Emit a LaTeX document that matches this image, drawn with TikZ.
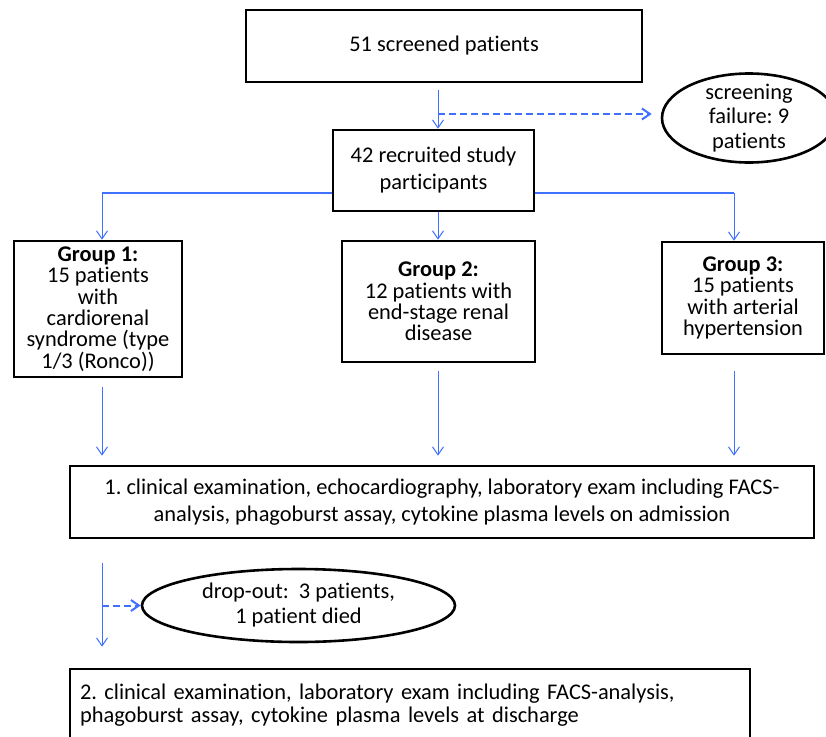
\documentclass[tikz,border=0pt]{standalone}
\usepackage{fontspec}
\setmainfont{Carlito}[RawFeature={-liga;-clig;-calt;-dlig}]
\usetikzlibrary{shapes.geometric,arrows.meta}
\definecolor{linkblue}{RGB}{64,112,255}
\frenchspacing

\begin{document}
\begin{tikzpicture}[x=1pt, y=-1pt,
  box/.style={draw, line width=2.6pt, inner sep=0pt, align=center, font=\fontsize{22.4}{27}\selectfont},
  grp/.style={box, font=\fontsize{22.4}{21.3}\selectfont},
  oval/.style={draw, ellipse, line width=2.6pt, inner sep=-10pt, align=center, font=\fontsize{22.4}{24.5}\selectfont},
  link/.style={linkblue, line width=1pt, -{Straight Barb[length=8pt,width=11pt]}},
  trunk/.style={linkblue, line width=2pt},
  faillink/.style={link, line width=2pt, dash pattern=on 7pt off 4pt}]
\fill[white] (0,0) rectangle (826,736);
\useasboundingbox (0,0) rectangle (826,736);
\node[box, minimum width=396pt, minimum height=72pt] (screened) at (444,46) {51 screened patients};
\node[box, minimum width=201pt, minimum height=81pt] (recruited) at (433.5,170.5) {42 recruited study\\participants};
\node[oval, minimum width=174pt, minimum height=89pt] (failure) at (749,118) {screening\\failure: 9\\patients};
\node[grp, minimum width=168pt, minimum height=136pt] (group1) at (98,309) {\textbf{Group 1:}\\15 patients\\with\\cardiorenal\\syndrome (type\\1/3 (Ronco))};
\node[grp, minimum width=193pt, minimum height=121pt] (group2) at (438.5,301.5) {\textbf{Group 2:}\\12 patients with\\end-stage renal\\disease};
\node[grp, minimum width=162pt, minimum height=112pt] (group3) at (743,298) {\textbf{Group 3:}\\15 patients\\with arterial\\hypertension};
\node[box, minimum width=744pt, minimum height=72pt] (admission) at (442,502) {1. clinical examination, echocardiography, laboratory exam including FACS-\\analysis, phagoburst assay, cytokine plasma levels on admission};
\node[oval, minimum width=313pt, minimum height=73pt, font=\fontsize{22.4}{25}\selectfont] (dropout) at (298.5,605.5) {drop-out:~ 3 patients,\\1 patient died};
\node[box, align=left, text width=660pt, inner xsep=10pt, minimum height=72pt, font=\fontsize{22.4}{23}\selectfont] (discharge) at (410,705) {2. clinical examination, laboratory exam including FACS-analysis,\\phagoburst assay, cytokine plasma levels at discharge};
\coordinate (leftx) at (102,0);
\coordinate (midx) at (438,0);
\coordinate (rightx) at (734,0);
\coordinate (split) at (0,193);
\coordinate (failpt) at ([yshift=4pt]failure.west);
\draw[link, shorten <=7pt] (screened.south -| midx) -- (recruited.north -| midx);
\draw[faillink, shorten >=9pt] (failpt -| midx) -- (failpt);
\draw[link] (recruited.south -| midx) -- (group2.north -| midx);
\draw[link] (recruited.west |- split) -| (group1.north -| leftx);
\draw[link] (recruited.east |- split) -| (group3.north -| rightx);
\draw[trunk] (recruited.west |- split) -- (split -| leftx);
\draw[trunk] (recruited.east |- split) -- (split -| rightx);
\draw[link, shorten <=9pt, shorten >=9pt] (group1.south -| leftx) -- (admission.north -| leftx);
\draw[link, shorten <=8pt, shorten >=9pt] (group2.south -| midx) -- (admission.north -| midx);
\draw[link, shorten <=16pt, shorten >=9pt] (group3.south -| rightx) -- (admission.north -| rightx);
\draw[link, shorten <=24pt, shorten >=21pt] (admission.south -| leftx) -- (discharge.north -| leftx);
\draw[faillink] (dropout.west -| leftx) -- (dropout.west);
\end{tikzpicture}
\end{document}
